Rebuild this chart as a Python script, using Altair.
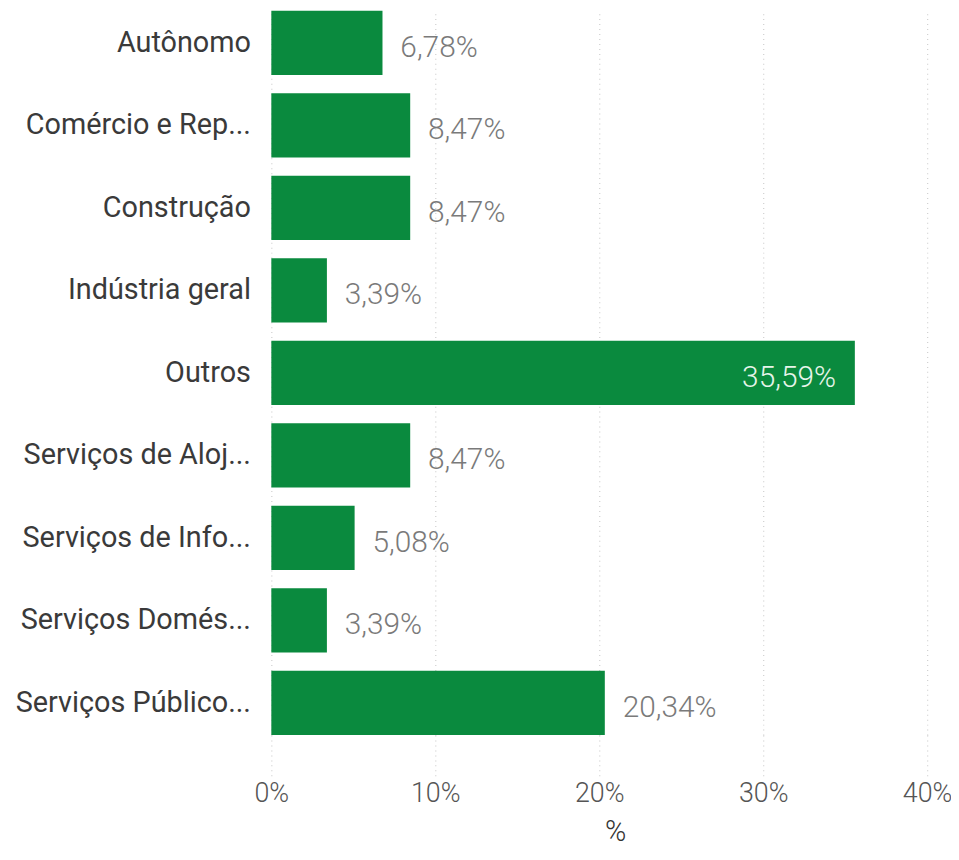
import altair as alt
import pandas as pd

categories = [
    "Autônomo",
    "Comércio e Rep...",
    "Construção",
    "Indústria geral",
    "Outros",
    "Serviços de Aloj...",
    "Serviços de Info...",
    "Serviços Domés...",
    "Serviços Público...",
]
values = [6.78, 8.47, 8.47, 3.39, 35.59, 8.47, 5.08, 3.39, 20.34]
x_ticks = [0, 10, 20, 30, 40]

df = pd.DataFrame({"cat": categories, "v": values})

FONT = "Roboto"
GREEN = "#0a8a3e"

base = alt.Chart(df).transform_calculate(
    lbl="replace(format(datum.v, '.2f'), '.', ',') + '%'"
)

x_enc = alt.X(
    "v:Q",
    scale=alt.Scale(domain=[0, 40], nice=False),
    axis=alt.Axis(
        values=x_ticks,
        title="%",
        labelExpr="datum.value + '%'",
        labelFlush=False,
        grid=True,
        gridColor="#cfcfcf",
        gridDash=[1, 4],
        gridWidth=1.2,
        domain=False,
        ticks=True,
        tickSize=42,
        tickColor="#cfcfcf",
        tickDash=[1, 4],
        tickWidth=1.2,
        labelPadding=4,
        labelFont=FONT,
        labelFontSize=27,
        labelFontWeight=300,
        labelColor="#555555",
        titleFont=FONT,
        titleFontSize=29,
        titleFontWeight=300,
        titleColor="#333333",
        titlePadding=11,
        titleX=346,
    ),
)
y_enc = alt.Y(
    "cat:N",
    sort=categories,
    scale=alt.Scale(paddingInner=0.22, paddingOuter=0),
    axis=alt.Axis(
        title=None,
        domain=False,
        ticks=False,
        grid=False,
        labelPadding=21,
        labelFont=FONT,
        labelFontSize=29,
        labelFontWeight=400,
        labelColor="#3a3a3a",
        labelLimit=400,
    ),
)

bars = base.mark_bar(color=GREEN).encode(x=x_enc, y=y_enc)

out_labels = base.transform_filter("datum.v < 30").mark_text(
    align="left", baseline="middle", dx=18, dy=5, font=FONT, fontSize=30,
    fontWeight=300, color="#7a7a7a"
).encode(x=x_enc, y=y_enc, text="lbl:N")

in_labels = base.transform_filter("datum.v >= 30").mark_text(
    align="right", baseline="middle", dx=-19, dy=5, font=FONT, fontSize=30,
    fontWeight=300, color="#e6f5ea"
).encode(x=x_enc, y=y_enc, text="lbl:N")

chart = (
    alt.layer(bars, out_labels, in_labels)
    .properties(
        width=660,
        height=729,
        background="white",
        autosize=alt.AutoSizeParams(type="none"),
        padding={"left": 265, "top": 0, "right": 24, "bottom": 115},
    )
    .configure_view(strokeWidth=0, strokeOpacity=0)
)

chart.save("out.html", embed_options={"renderer": "svg", "actions": False})
